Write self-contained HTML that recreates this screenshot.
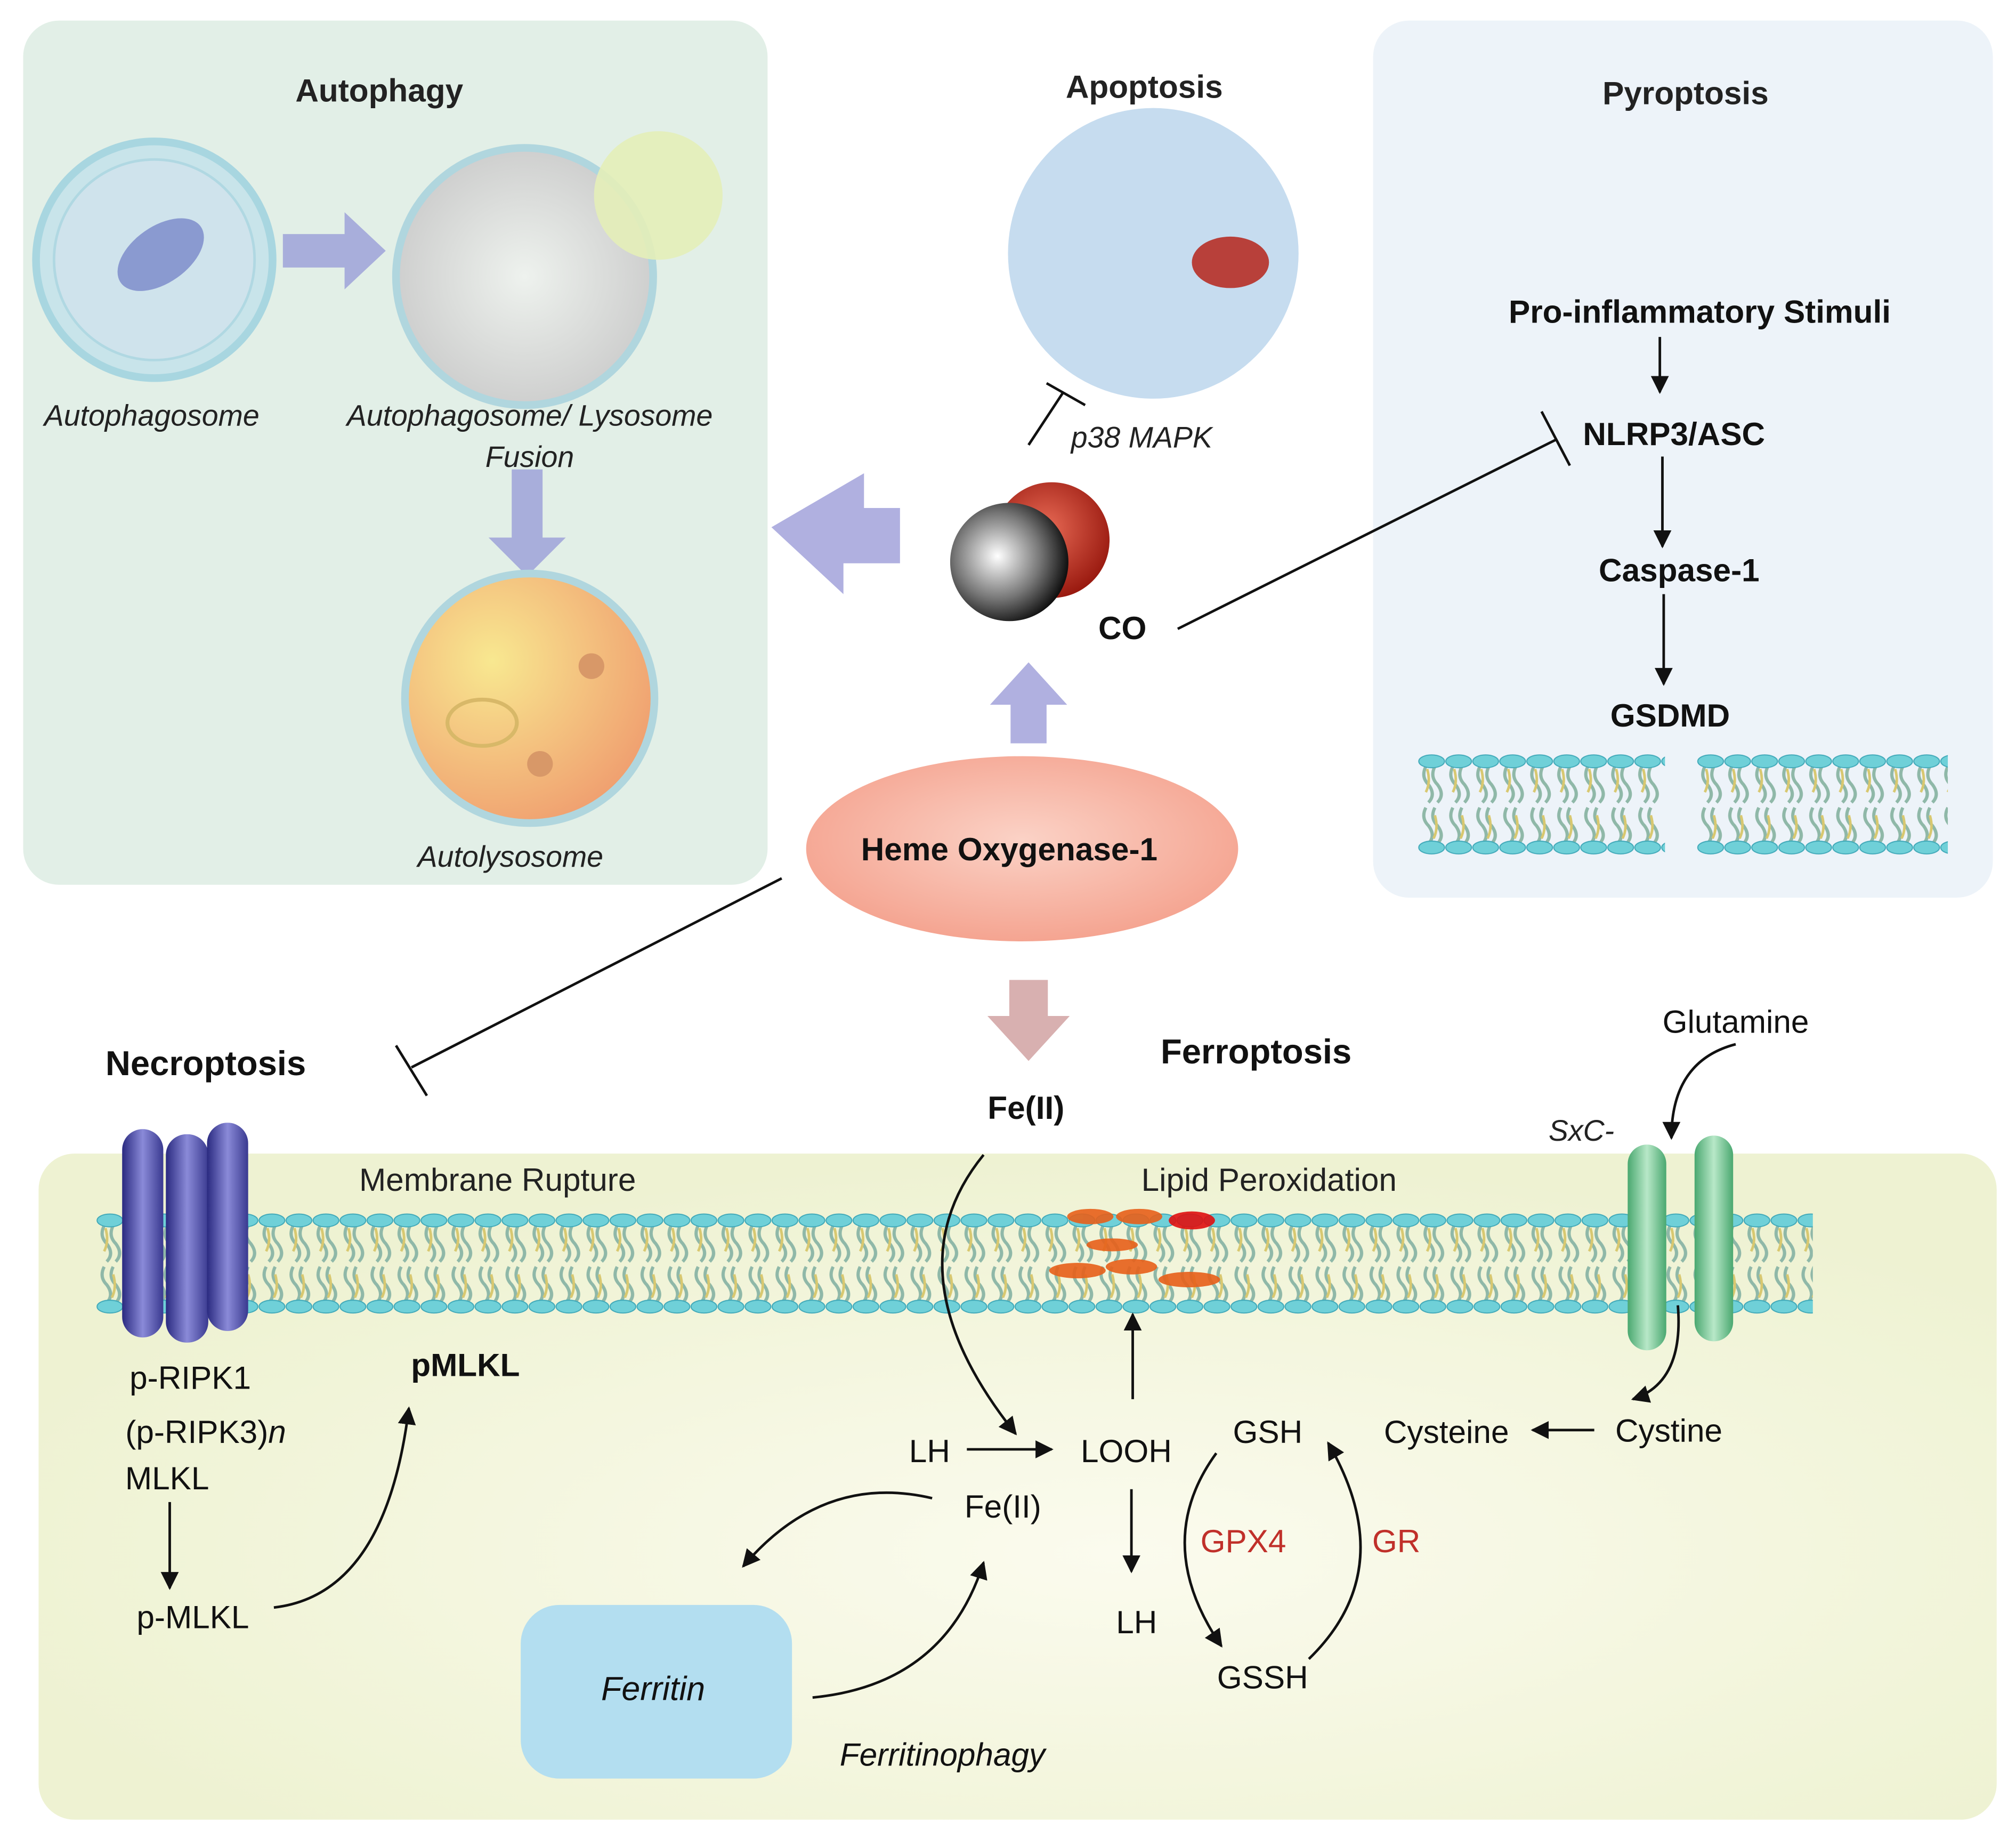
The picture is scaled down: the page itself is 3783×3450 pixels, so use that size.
<!DOCTYPE html>
<html><head><meta charset="utf-8"><style>
html,body{margin:0;padding:0;background:#fff;}
svg{display:block;}
text{font-family:"Liberation Sans",sans-serif;}
</style></head><body>
<svg width="3783" height="3450" viewBox="0 0 1568 1430" xmlns="http://www.w3.org/2000/svg">
<defs>
<pattern id="mem" x="0" y="0" width="21" height="80" patternUnits="userSpaceOnUse">
 <path d="M6 10 q-4 8 2 14 q6 8 0 14 M13 10 q-4 8 2 14 q6 8 0 14 M6 42 q-4 8 2 14 q6 8 0 14 M13 42 q-4 8 2 14 q6 8 0 14" stroke="#8fb8a8" stroke-width="2.5" fill="none"/>
 <path d="M7 12 q3 10 -1 18 M13 48 q3 10 -1 18" stroke="#d8c870" stroke-width="2" fill="none"/>
 <ellipse cx="10.5" cy="6" rx="10" ry="5" fill="#6fd0d8" stroke="#3fa8b8" stroke-width="0.8"/>
 <ellipse cx="10.5" cy="73" rx="10" ry="5" fill="#6fd0d8" stroke="#3fa8b8" stroke-width="0.8"/>
</pattern>
<radialGradient id="ho" cx="50%" cy="45%" r="60%"><stop offset="0" stop-color="#fbd2c6"/><stop offset="1" stop-color="#f4a08c"/></radialGradient>
<radialGradient id="gray" cx="40%" cy="45%" r="60%"><stop offset="0" stop-color="#fff"/><stop offset="0.6" stop-color="#777"/><stop offset="1" stop-color="#111"/></radialGradient>
<radialGradient id="red" cx="45%" cy="40%" r="60%"><stop offset="0" stop-color="#e86a55"/><stop offset="1" stop-color="#9a1a10"/></radialGradient>
<radialGradient id="auto" cx="35%" cy="35%" r="70%"><stop offset="0" stop-color="#f8e890"/><stop offset="1" stop-color="#f0a070"/></radialGradient>
<radialGradient id="fus" cx="50%" cy="50%" r="60%"><stop offset="0" stop-color="#eef2ee"/><stop offset="1" stop-color="#c8c8c8"/></radialGradient>
<radialGradient id="bot" cx="55%" cy="60%" r="60%"><stop offset="0" stop-color="#fbfbee"/><stop offset="1" stop-color="#eef2d2"/></radialGradient>
<linearGradient id="purp" x1="0" x2="1"><stop offset="0" stop-color="#2a2a80"/><stop offset="0.5" stop-color="#8a8ad8"/><stop offset="1" stop-color="#3a3a90"/></linearGradient>
<linearGradient id="grn" x1="0" x2="1"><stop offset="0" stop-color="#4aa870"/><stop offset="0.5" stop-color="#b8e8c8"/><stop offset="1" stop-color="#4aa870"/></linearGradient>
<marker id="ah" viewBox="0 0 10 10" refX="9" refY="5" markerWidth="7" markerHeight="7" orient="auto"><path d="M0 0 L10 5 L0 10 Z" fill="#111"/></marker>
</defs>

<rect x="18" y="16" width="579" height="672" rx="28" fill="#e2efe7"/>
<rect x="1068" y="16" width="482" height="682" rx="28" fill="#edf3f9"/>
<rect x="30" y="897" width="1523" height="518" rx="28" fill="url(#bot)"/>

<text x="295" y="79" font-size="25" font-weight="bold" text-anchor="middle" fill="#222">Autophagy</text>
<circle cx="120" cy="202" r="92" fill="#c8e4ea" stroke="#a8d6e0" stroke-width="6"/>
<circle cx="120" cy="202" r="78" fill="#cfe3ec" stroke="#b0d8e2" stroke-width="2"/>
<ellipse cx="125" cy="198" rx="38" ry="22" transform="rotate(-35 125 198)" fill="#8a9ad0"/>
<path d="M220 182 H268 V165 L300 195 L268 225 V208 H220 Z" fill="#a8aedb"/>
<circle cx="408" cy="215" r="100" fill="url(#fus)" stroke="#b0d6de" stroke-width="6"/>
<circle cx="512" cy="152" r="50" fill="#e4eeb8" opacity="0.9"/>
<path d="M398 365 H422 V418 H440 L410 448 L380 418 H398 Z" fill="#a8aedb"/>
<circle cx="412" cy="543" r="97" fill="url(#auto)" stroke="#b0d6de" stroke-width="6"/>
<ellipse cx="375" cy="562" rx="27" ry="18" fill="none" stroke="#d8b868" stroke-width="3"/>
<circle cx="460" cy="518" r="10" fill="#d89868"/>
<circle cx="420" cy="594" r="10" fill="#d89868"/>
<g font-size="23" font-style="italic" fill="#222" text-anchor="middle">
<text x="118" y="331">Autophagosome</text>
<text x="412" y="331">Autophagosome/ Lysosome</text>
<text x="412" y="363">Fusion</text>
<text x="397" y="674">Autolysosome</text>
</g>

<text x="890" y="76" font-size="25" font-weight="bold" text-anchor="middle" fill="#222">Apoptosis</text>
<circle cx="897" cy="197" r="113" fill="#c6dcef"/>
<ellipse cx="957" cy="204" rx="30" ry="20" fill="#b8403a"/>
<line x1="800" y1="346" x2="827" y2="305" stroke="#111" stroke-width="2"/>
<line x1="814" y1="298" x2="844" y2="315" stroke="#111" stroke-width="2"/>
<text x="833" y="348" font-size="23" font-style="italic" fill="#222">p38 MAPK</text>

<path d="M700 395 H672 V368 L600 410 L656 462 V438 H700 Z" fill="#b0b0e0"/>
<circle cx="818" cy="420" r="45" fill="url(#red)"/>
<circle cx="785" cy="437" r="46" fill="url(#gray)"/>
<text x="873" y="497" font-size="25" font-weight="bold" fill="#111" text-anchor="middle">CO</text>
<path d="M786 578 V548 H770 L800 515 L830 548 H814 V578 Z" fill="#b0b0e0"/>
<line x1="916" y1="489" x2="1210" y2="342" stroke="#111" stroke-width="2"/>
<line x1="1199" y1="320" x2="1221" y2="362" stroke="#111" stroke-width="2"/>

<text x="1311" y="81" font-size="25" font-weight="bold" text-anchor="middle" fill="#222">Pyroptosis</text>
<g font-size="25" font-weight="bold" fill="#111" text-anchor="middle">
<text x="1322" y="251">Pro-inflammatory Stimuli</text>
<text x="1302" y="346">NLRP3/ASC</text>
<text x="1306" y="452">Caspase-1</text>
<text x="1299" y="565">GSDMD</text>
</g>
<g stroke="#111" stroke-width="2" marker-end="url(#ah)">
<line x1="1291" y1="262" x2="1291" y2="305"/>
<line x1="1293" y1="355" x2="1293" y2="425"/>
<line x1="1294" y1="462" x2="1294" y2="532"/>
</g>
<g transform="translate(1103,586)"><rect width="192" height="80" fill="url(#mem)"/></g>
<g transform="translate(1320,586)"><rect width="195" height="80" fill="url(#mem)"/></g>

<ellipse cx="795" cy="660" rx="168" ry="72" fill="url(#ho)"/>
<text x="785" y="669" font-size="25" font-weight="bold" text-anchor="middle" fill="#111">Heme Oxygenase-1</text>
<line x1="608" y1="683" x2="320" y2="830" stroke="#111" stroke-width="2"/>
<line x1="308" y1="813" x2="332" y2="852" stroke="#111" stroke-width="2"/>
<path d="M785 762 V790 H768 L800 825 L832 790 H815 V762 Z" fill="#d8b0b0"/>

<text x="160" y="836" font-size="27" font-weight="bold" text-anchor="middle" fill="#111">Necroptosis</text>
<text x="977" y="827" font-size="27" font-weight="bold" text-anchor="middle" fill="#111">Ferroptosis</text>
<text x="798" y="870" font-size="25" font-weight="bold" text-anchor="middle" fill="#111">Fe(II)</text>
<text x="1350" y="803" font-size="25" text-anchor="middle" fill="#111">Glutamine</text>
<text x="1230" y="887" font-size="23" font-style="italic" text-anchor="middle" fill="#222">SxC-</text>
<text x="387" y="926" font-size="25" text-anchor="middle" fill="#222">Membrane Rupture</text>
<text x="987" y="926" font-size="25" text-anchor="middle" fill="#222">Lipid Peroxidation</text>

<g transform="translate(75,943)"><rect width="1335" height="80" fill="url(#mem)"/></g>
<g fill="#e8601a" opacity="0.9">
<ellipse cx="848" cy="946" rx="18" ry="6"/><ellipse cx="886" cy="946" rx="18" ry="6"/>
<ellipse cx="927" cy="949" rx="18" ry="7" fill="#e01010"/>
<ellipse cx="838" cy="988" rx="22" ry="6"/><ellipse cx="880" cy="985" rx="20" ry="6"/><ellipse cx="925" cy="995" rx="24" ry="6"/>
<ellipse cx="865" cy="968" rx="20" ry="5"/>
</g>
<rect x="95" y="878" width="32" height="162" rx="16" fill="url(#purp)"/>
<rect x="129" y="882" width="33" height="162" rx="16" fill="url(#purp)"/>
<rect x="161" y="873" width="32" height="162" rx="16" fill="url(#purp)"/>
<rect x="1266" y="890" width="30" height="160" rx="15" fill="url(#grn)"/>
<rect x="1318" y="883" width="30" height="160" rx="15" fill="url(#grn)"/>

<g font-size="25" fill="#111" text-anchor="middle">
<text x="148" y="1080">p-RIPK1</text>
<text x="160" y="1122">(p-RIPK3)<tspan font-style="italic">n</tspan></text>
<text x="130" y="1158">MLKL</text>
<text x="150" y="1266">p-MLKL</text>
</g>
<text x="362" y="1070" font-size="25" font-weight="bold" text-anchor="middle" fill="#111">pMLKL</text>
<g stroke="#111" stroke-width="2" fill="none" marker-end="url(#ah)">
<line x1="132" y1="1168" x2="132" y2="1235"/>
<path d="M213 1250 Q300 1240 318 1095"/>
<path d="M765 898 Q690 990 790 1115"/>
<line x1="752" y1="1127" x2="818" y2="1127"/>
<line x1="881" y1="1088" x2="881" y2="1022"/>
<line x1="880" y1="1158" x2="880" y2="1222"/>
<line x1="1240" y1="1112" x2="1192" y2="1112"/>
<path d="M1350 812 Q1300 825 1300 885"/>
<path d="M1305 1015 Q1310 1075 1270 1088"/>
<path d="M725 1165 Q640 1145 578 1218"/>
<path d="M632 1320 Q735 1310 765 1215"/>
<path d="M946 1130 Q895 1200 950 1280"/>
<path d="M1018 1290 Q1090 1220 1033 1122"/>
</g>
<g font-size="25" fill="#111" text-anchor="middle">
<text x="723" y="1137">LH</text>
<text x="876" y="1137">LOOH</text>
<text x="780" y="1180">Fe(II)</text>
<text x="884" y="1270">LH</text>
<text x="986" y="1122">GSH</text>
<text x="1125" y="1122">Cysteine</text>
<text x="1298" y="1121">Cystine</text>
<text x="982" y="1313">GSSH</text>
</g>
<text x="967" y="1207" font-size="25" fill="#c0302a" text-anchor="middle">GPX4</text>
<text x="1086" y="1207" font-size="25" fill="#c0302a" text-anchor="middle">GR</text>
<rect x="405" y="1248" width="211" height="135" rx="30" fill="#b3def0"/>
<text x="508" y="1322" font-size="26" font-style="italic" text-anchor="middle" fill="#111">Ferritin</text>
<text x="733" y="1373" font-size="25" font-style="italic" text-anchor="middle" fill="#111">Ferritinophagy</text>
</svg>
</body></html>
